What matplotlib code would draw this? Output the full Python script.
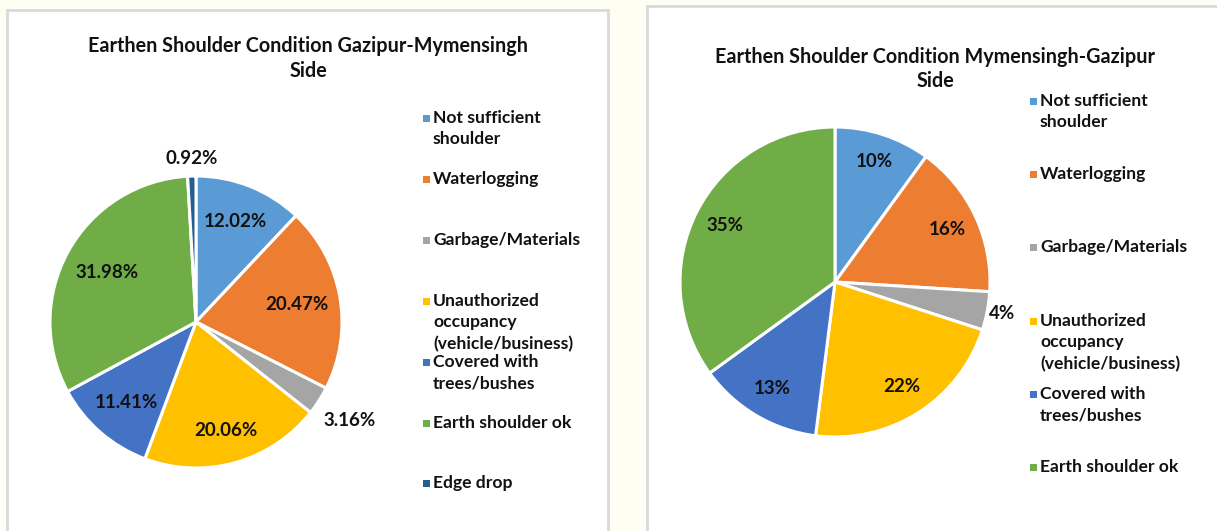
import matplotlib.pyplot as plt
import numpy as np
from matplotlib.patches import Rectangle

# ---- data ----
left_title = "Earthen Shoulder Condition Gazipur-Mymensingh\nSide"
left_labels = ["Not sufficient\nshoulder", "Waterlogging", "Garbage/Materials",
               "Unauthorized\noccupancy\n(vehicle/business)", "Covered with\ntrees/bushes",
               "Earth shoulder ok", "Edge drop"]
left_values = [12.02, 20.47, 3.16, 20.06, 11.41, 31.98, 0.92]
left_pct = ["12.02%", "20.47%", "3.16%", "20.06%", "11.41%", "31.98%", "0.92%"]

right_title = "Earthen Shoulder Condition Mymensingh-Gazipur\nSide"
right_labels = left_labels[:6]
right_values = [10, 16, 4, 22, 13, 35]
right_pct = ["10%", "16%", "4%", "22%", "13%", "35%"]

colors = ["#5B9BD5", "#ED7D31", "#A5A5A5", "#FFC000", "#4472C4", "#70AD47", "#255E91"]

W, H = 1217, 531
FONT = ["Lato", "DejaVu Sans"]
plt.rcParams['font.family'] = FONT


def px_axes(fig, x0, y0, w, h):
    # pixel box (top-left origin) -> figure axes
    return fig.add_axes([x0 / W, 1 - (y0 + h) / H, w / W, h / H])


def draw_pie(fig, cx, cy, r, values, pct, dists):
    ax = px_axes(fig, cx - r, cy - r, 2 * r, 2 * r)
    wedges, _ = ax.pie(values, colors=colors[:len(values)], startangle=90,
                       counterclock=False, radius=1,
                       wedgeprops=dict(edgecolor='white', linewidth=2.2))
    ax.set_xlim(-1, 1)
    ax.set_ylim(-1, 1)
    ax.axis('off')
    for w, txt, d in zip(wedges, pct, dists):
        ang = np.deg2rad((w.theta1 + w.theta2) / 2)
        ax.text(d * np.cos(ang), d * np.sin(ang), txt, ha='center', va='center',
                fontsize=13.5, fontweight='bold', color='#111111', clip_on=False)
    return ax


def draw_legend(fig, x0, y0, step, labels):
    ax = px_axes(fig, 0, 0, W, H)
    ax.set_xlim(0, W)
    ax.set_ylim(H, 0)
    ax.axis('off')
    for i, lab in enumerate(labels):
        y = y0 + i * step
        ax.add_patch(Rectangle((x0, y - 4), 7, 7, color=colors[i], lw=0))
        ax.text(x0 + 10, y - 9, lab, ha='left', va='top', fontsize=12.6,
                fontweight='bold', color='#111111', linespacing=1.42)


fig = plt.figure(figsize=(W / 100, H / 100), dpi=100)
fig.patch.set_facecolor('#FFFEF3')

bg = px_axes(fig, 0, 0, W, H)
bg.set_xlim(0, W)
bg.set_ylim(H, 0)
bg.axis('off')
bg.add_patch(Rectangle((7, 10), 601, 540, facecolor='white', edgecolor='#D9D9D9', lw=2))
bg.add_patch(Rectangle((647, 6), 600, 540, facecolor='white', edgecolor='#D9D9D9', lw=2))

bg.text(308, 58.5, left_title, ha='center', va='center', fontsize=14.2,
        fontweight='bold', color='#111111', linespacing=1.28)
bg.text(935, 69, right_title, ha='center', va='center', fontsize=14.2,
        fontweight='bold', color='#111111', linespacing=1.28)

draw_pie(fig, 196, 322, 146, left_values, left_pct,
         [0.74, 0.70, 1.25, 0.77, 0.73, 0.70, 1.12])
draw_pie(fig, 835, 282, 155, right_values, right_pct,
         [0.82, 0.80, 1.10, 0.80, 0.80, 0.80])

draw_legend(fig, 423, 119, 60.9, left_labels)
draw_legend(fig, 1030, 102, 73.2, right_labels)

fig.savefig("out.png", dpi=100, facecolor=fig.get_facecolor())
